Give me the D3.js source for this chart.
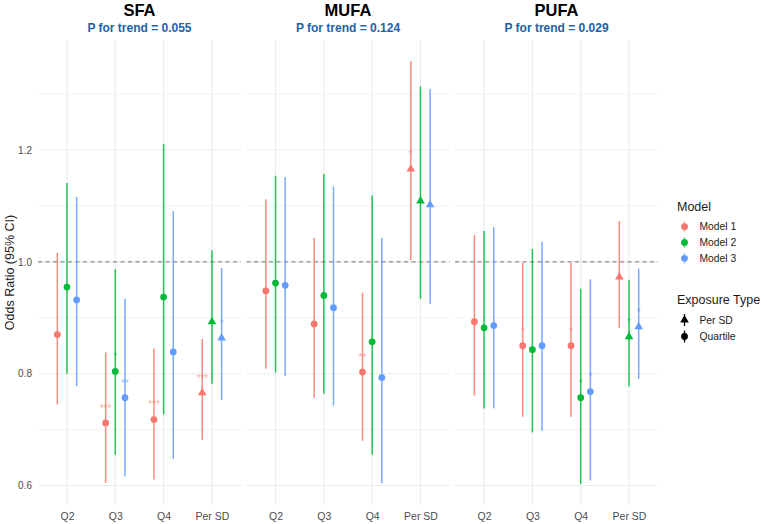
<!DOCTYPE html>
<html>
<head>
<meta charset="utf-8">
<script src="https://cdn.jsdelivr.net/npm/d3@7"></script>
<style>
  html, body { margin: 0; padding: 0; background: #fff; }
  svg { display: block; font-family: "Liberation Sans", Arial, sans-serif; }
</style>
</head>
<body>
<svg id="chart" width="767" height="524"></svg>
<script>
// ---------- data ----------
const FATS = ["SFA", "MUFA", "PUFA"];
const P_TREND = ["0.055", "0.124", "0.029"];
const EXPOSURES = ["Q2", "Q3", "Q4", "Per SD"];
const MODELS = ["Model 1", "Model 2", "Model 3"];
const EXPOSURE_TYPES = ["Per SD", "Quartile"];
const Y_TICKS = [0.6, 0.8, 1.0, 1.2];
const Y_MINOR = [0.7, 0.9, 1.1, 1.3];

// rows: Q2, Q3, Q4, Per SD  /  cols: Model 1, Model 2, Model 3
const SFA_OR = [[0.870, 0.955, 0.932], [0.712, 0.804, 0.757], [0.718, 0.937, 0.839], [0.766, 0.893, 0.864]];
const SFA_LO = [[0.745, 0.800, 0.778], [0.605, 0.655, 0.616], [0.611, 0.727, 0.648], [0.682, 0.782, 0.753]];
const SFA_HI = [[1.016, 1.141, 1.116], [0.838, 0.987, 0.934], [0.845, 1.211, 1.091], [0.862, 1.021, 0.989]];
const SFA_SIG = [["", "", ""], ["***", "*", "**"], ["***", "", ""], ["***", "", "*"]];

const MUFA_OR = [[0.948, 0.962, 0.958], [0.889, 0.940, 0.918], [0.803, 0.857, 0.793], [1.166, 1.109, 1.102]];
const MUFA_LO = [[0.809, 0.802, 0.796], [0.757, 0.764, 0.743], [0.680, 0.655, 0.604], [1.003, 0.934, 0.925]];
const MUFA_HI = [[1.112, 1.154, 1.152], [1.043, 1.157, 1.135], [0.945, 1.119, 1.043], [1.359, 1.314, 1.309]];
const MUFA_SIG = [["", "", ""], ["", "", ""], ["**", "", ""], ["*", "", ""]];

const PUFA_OR = [[0.893, 0.882, 0.886], [0.850, 0.843, 0.850], [0.850, 0.757, 0.768], [0.973, 0.866, 0.884]];
const PUFA_LO = [[0.761, 0.738, 0.738], [0.723, 0.695, 0.698], [0.723, 0.603, 0.609], [0.882, 0.777, 0.791]];
const PUFA_HI = [[1.048, 1.055, 1.062], [0.998, 1.023, 1.036], [0.998, 0.952, 0.969], [1.073, 0.968, 0.988]];
const PUFA_SIG = [["", "", ""], ["*", "", ""], ["*", "*", "*"], ["", "*", "*"]];

const TABLE = {
  SFA: { or: SFA_OR, lo: SFA_LO, hi: SFA_HI, sig: SFA_SIG },
  MUFA: { or: MUFA_OR, lo: MUFA_LO, hi: MUFA_HI, sig: MUFA_SIG },
  PUFA: { or: PUFA_OR, lo: PUFA_LO, hi: PUFA_HI, sig: PUFA_SIG }
};

const rows = FATS.flatMap(f => EXPOSURES.flatMap((e, i) => MODELS.map((m, j) => ({
  fat: f, exposure: e, model: m,
  type: e === "Per SD" ? "Per SD" : "Quartile",
  or: TABLE[f].or[i][j], lo: TABLE[f].lo[i][j], hi: TABLE[f].hi[i][j], sig: TABLE[f].sig[i][j]
}))));

// ---------- scales ----------
const svg = d3.select("#chart");
const yTop = 40, yBottom = 505;

const color = d3.scaleOrdinal().domain(MODELS).range(["#F8766D", "#00BA38", "#619CFF"]);
const shape = d3.scaleOrdinal().domain(EXPOSURE_TYPES).range([d3.symbolTriangle, d3.symbolCircle]);
const shapeSize = d3.scaleOrdinal().domain(EXPOSURE_TYPES).range([32, 36]);

const ext = [d3.min(rows, d => d.lo), d3.max(rows, d => d.hi)];
const pad = (ext[1] - ext[0]) * 0.05;
const y = d3.scaleLinear().domain([ext[0] - pad, ext[1] + pad]).range([yBottom, yTop]);

const panel = d3.scaleBand().domain(FATS).range([38, 658]).paddingInner(0.027);
const pw = panel.bandwidth();
const x = d3.scalePoint().domain(EXPOSURES).range([0, pw]).padding(0.6);
const dodge = d3.scalePoint().domain(MODELS).range([-0.2 * x.step(), 0.2 * x.step()]);

// ---------- panels ----------
FATS.forEach((fat, fi) => {
  const g = svg.append("g").attr("transform", `translate(${panel(fat)},0)`);

  g.selectAll("line.minor").data(Y_MINOR).join("line")
    .attr("x1", 0).attr("x2", pw).attr("y1", d => y(d)).attr("y2", d => y(d))
    .attr("stroke", "#ededed").attr("stroke-width", 0.6);
  g.selectAll("line.major").data(Y_TICKS).join("line")
    .attr("x1", 0).attr("x2", pw).attr("y1", d => y(d)).attr("y2", d => y(d))
    .attr("stroke", "#ebebeb").attr("stroke-width", 1.1);
  g.selectAll("line.vgrid").data(EXPOSURES).join("line")
    .attr("x1", d => x(d)).attr("x2", d => x(d)).attr("y1", yTop).attr("y2", yBottom)
    .attr("stroke", "#ebebeb").attr("stroke-width", 1.1);

  g.append("line")
    .attr("x1", 0).attr("x2", pw).attr("y1", y(1)).attr("y2", y(1))
    .attr("stroke", "#666").attr("stroke-width", 0.9).attr("stroke-dasharray", "4,3.5");

  const data = rows.filter(r => r.fat === fat);
  const cx = d => x(d.exposure) + dodge(d.model);

  g.selectAll("line.ci").data(data).join("line")
    .attr("x1", cx).attr("x2", cx).attr("y1", d => y(d.lo)).attr("y2", d => y(d.hi))
    .attr("stroke", d => color(d.model)).attr("stroke-width", 1.5).attr("opacity", 0.85);

  g.selectAll("path.pt").data(data).join("path")
    .attr("transform", d => `translate(${cx(d)},${y(d.or)})`)
    .attr("d", d => d3.symbol(shape(d.type), shapeSize(d.type))())
    .attr("fill", d => color(d.model));

  g.selectAll("text.sig").data(data.filter(d => d.sig)).join("text")
    .attr("x", cx).attr("y", d => y(d.or + 0.029) + 5)
    .attr("text-anchor", "middle").attr("font-size", 10)
    .attr("fill", d => color(d.model)).attr("opacity", 0.6)
    .text(d => d.sig);

  // x axis
  const xa = g.append("g").attr("transform", `translate(0,${yBottom})`)
    .call(d3.axisBottom(x).tickSize(0).tickPadding(8));
  xa.select(".domain").remove();
  xa.selectAll("text").attr("font-size", 10.5).attr("fill", "#4d4d4d").attr("font-family", null);

  // strip titles
  g.append("text").attr("x", pw / 2).attr("y", 16).attr("text-anchor", "middle")
    .attr("font-size", 16.5).attr("font-weight", "bold").attr("fill", "#000").text(fat);
  g.append("text").attr("x", pw / 2).attr("y", 32).attr("text-anchor", "middle")
    .attr("font-size", 12).attr("font-weight", "bold").attr("fill", "#2361a8")
    .text(`P for trend = ${P_TREND[fi]}`);
});

// y axis
const ya = svg.append("g").attr("transform", "translate(35,0)")
  .call(d3.axisLeft(y).tickValues(Y_TICKS).tickSize(0).tickPadding(3).tickFormat(d3.format(".1f")));
ya.select(".domain").remove();
ya.selectAll("text").attr("font-size", 10).attr("fill", "#4d4d4d").attr("font-family", null);

svg.append("text")
  .attr("transform", `translate(14,${(yTop + yBottom) / 2}) rotate(-90)`)
  .attr("text-anchor", "middle").attr("font-size", 12.5).attr("fill", "#1a1a1a")
  .text("Odds Ratio (95% CI)");

// ---------- legends ----------
const lg = svg.append("g").attr("transform", "translate(677,0)");
lg.append("text").attr("x", 0).attr("y", 211).attr("font-size", 12.5).attr("fill", "#1a1a1a").text("Model");
const mk = lg.selectAll("g.mk").data(MODELS).join("g")
  .attr("transform", (d, i) => `translate(7.5,${226.7 + i * 15.8})`);
mk.append("line").attr("y1", -5.5).attr("y2", 5.5)
  .attr("stroke", d => color(d)).attr("stroke-width", 1.3).attr("opacity", 0.6);
mk.append("path").attr("d", d3.symbol(d3.symbolCircle, 36)()).attr("fill", d => color(d));
mk.append("text").attr("x", 15).attr("dy", "0.35em").attr("font-size", 10.3).attr("fill", "#1a1a1a").text(d => d);

lg.append("text").attr("x", 0).attr("y", 304).attr("font-size", 12.5).attr("fill", "#1a1a1a").text("Exposure Type");
const ek = lg.selectAll("g.ek").data(EXPOSURE_TYPES).join("g")
  .attr("transform", (d, i) => `translate(7.5,${320 + i * 16.5})`);
ek.append("line").attr("y1", -6).attr("y2", 6).attr("stroke", "#000").attr("stroke-width", 1.3);
ek.append("path").attr("d", d => d3.symbol(shape(d), shapeSize(d))()).attr("fill", "#000");
ek.append("text").attr("x", 15).attr("dy", "0.35em").attr("font-size", 10.3).attr("fill", "#1a1a1a").text(d => d);
</script>
</body>
</html>
